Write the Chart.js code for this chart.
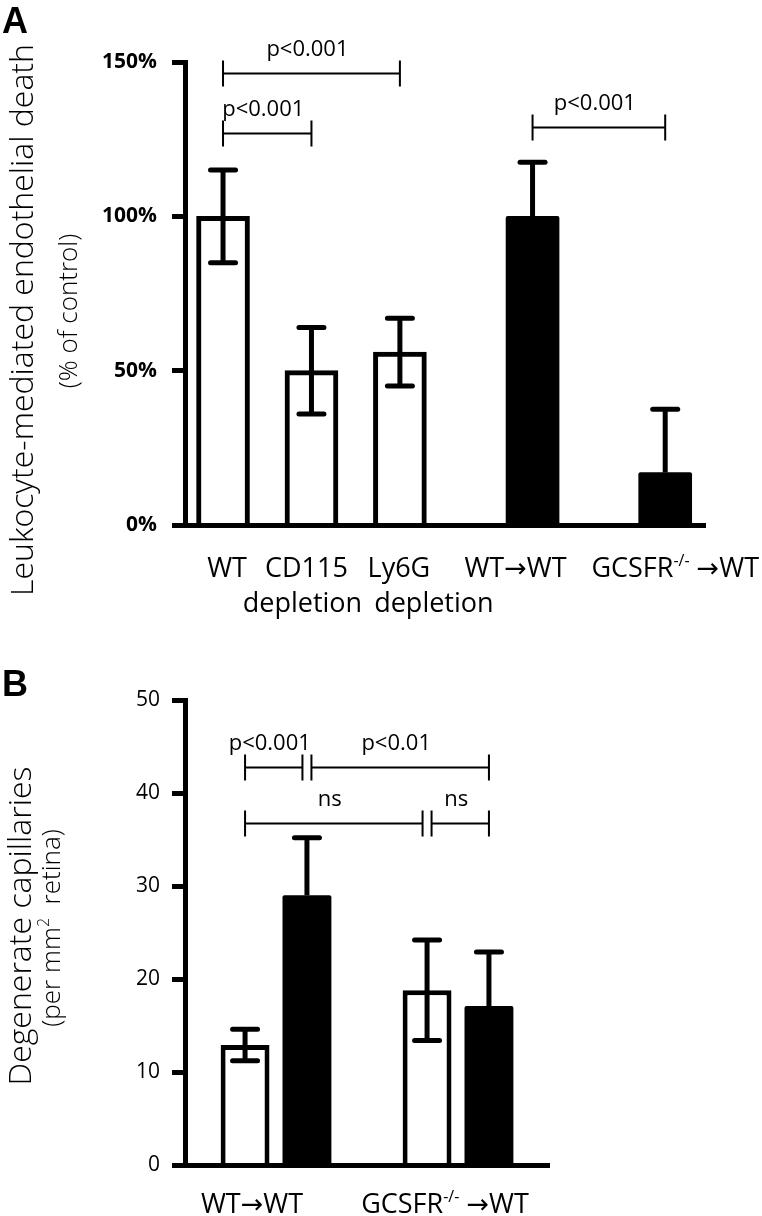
<!DOCTYPE html>
<html>
<head>
<meta charset="utf-8">
<script src="https://cdn.jsdelivr.net/npm/chart.js@4.4.1/dist/chart.umd.min.js"></script>
<style>
	html, body { margin: 0; padding: 0; background: #fff; }
	.panel { position: absolute; left: 0; width: 762px; }
	#panelA { top: 0; height: 620px; }
	#panelB { top: 620px; height: 596px; }
</style>
</head>
<body>
<div class="panel" id="panelA"><canvas id="chartA"></canvas></div>
<div class="panel" id="panelB"><canvas id="chartB"></canvas></div>
<script>
const FONT = '"Open Sans", "DejaVu Sans", sans-serif';

// Panel A - leukocyte-mediated endothelial death (% of control)
const labelsA = [['WT'], ['CD115', 'depletion'], ['Ly6G', 'depletion'], ['WT→WT'], ['GCSFR^{-/-} →WT']];
const slotsA = [0, 1, 2, 3.5, 5];
const depletionMean = [100, 50, 56];
const depletionErr = [15, 14, 11];
const chimeraMean = [100, 17];
const chimeraErr = [17.5, 20.5];
const sigA = [
	{ from: 0, to: 2, level: 146.5, text: 'p<0.001' },
	{ from: 0, to: 1, level: 127, text: 'p<0.001' },
	{ from: 3, to: 4, level: 129, text: 'p<0.001' },
];

// Panel B - degenerate capillaries (per mm2 retina)
const labelsB = [['WT→WT'], ['GCSFR^{-/-} →WT']];
const openMean = [12.9, 18.8];
const openErr = [1.7, 5.4];
const solidMean = [29, 17.1];
const solidErr = [6.2, 5.8];
const sigB = [
	{ from: 0, to: 1, level: 42.8, text: 'p<0.001' },
	{ from: 1, to: 3, level: 42.8, text: 'p<0.01' },
	{ from: 0, to: 2, level: 36.8, text: 'ns' },
	{ from: 2, to: 3, level: 36.8, text: 'ns' },
];


// 'GCSFR^{-/-}' -> normal text + superscript part
function richParts(str){
	const parts = [];
	const re = /\^\{([^}]*)\}/g;
	let last = 0, m;
	while ((m = re.exec(str))) {
		if (m.index > last) parts.push({ t: str.slice(last, m.index) });
		parts.push({ t: m[1], sup: true });
		last = re.lastIndex;
	}
	if (last < str.length) parts.push({ t: str.slice(last) });
	return parts;
}

function drawRich(ctx, str, cx, y, size, weight){
	const parts = richParts(str);
	const fontFor = p => weight + ' ' + (p.sup ? Math.round(size * 0.6) : size) + 'px ' + FONT;
	let total = 0;
	parts.forEach(p => {
		ctx.font = fontFor(p);
		p.w = ctx.measureText(p.t).width;
		total += p.w;
	});
	let x = cx - total / 2;
	ctx.textAlign = 'left';
	ctx.textBaseline = 'alphabetic';
	parts.forEach(p => {
		ctx.font = fontFor(p);
		ctx.fillText(p.t, x, p.sup ? y - size * 0.42 : y);
		x += p.w;
	});
}

// error bars, significance brackets, category labels, axis titles
function figurePlugin(fig){
	return {
		id: 'figure',
		afterDraw(chart){
			const { ctx, chartArea } = chart;
			const xs = chart.scales.x, ys = chart.scales.y;
			ctx.save();
			ctx.fillStyle = '#000';
			ctx.strokeStyle = '#000';

			const bars = [];
			chart.data.datasets.forEach((ds, di) => {
				chart.getDatasetMeta(di).data.forEach((el, i) => {
					const d = ds.data[i];
					bars.push({ x: el.x, top: el.y, mean: typeof d === 'object' ? d.y : d, err: ds.errors[i], solid: ds.solid });
				});
			});
			bars.sort((a, b) => a.x - b.x);

			// open bars get both whiskers, solid ones only the upper one
			bars.forEach(b => {
				const hi = ys.getPixelForValue(b.mean + b.err);
				const lo = b.solid ? b.top : ys.getPixelForValue(b.mean - b.err);
				ctx.lineWidth = 5;
				ctx.lineCap = 'butt';
				ctx.beginPath();
				ctx.moveTo(b.x, hi);
				ctx.lineTo(b.x, lo);
				ctx.stroke();
				ctx.lineCap = 'round';
				ctx.beginPath();
				ctx.moveTo(b.x - 12.5, hi);
				ctx.lineTo(b.x + 12.5, hi);
				if (!b.solid) {
					ctx.moveTo(b.x - 12.5, lo);
					ctx.lineTo(b.x + 12.5, lo);
				}
				ctx.stroke();
			});

			ctx.lineWidth = 2;
			ctx.lineCap = 'butt';
			fig.brackets.forEach(br => {
				const yy = Math.round(ys.getPixelForValue(br.level)) + 0.5;
				let x1 = bars[br.from].x, x2 = bars[br.to].x;
				// two brackets meeting on one bar are pulled apart a little
				if (fig.brackets.some(o => o !== br && o.level === br.level && o.to === br.from)) x1 += 4.5;
				if (fig.brackets.some(o => o !== br && o.level === br.level && o.from === br.to)) x2 -= 4.5;
				ctx.beginPath();
				ctx.moveTo(x1, yy);
				ctx.lineTo(x2, yy);
				ctx.moveTo(x1, yy - 13);
				ctx.lineTo(x1, yy + 13);
				ctx.moveTo(x2, yy - 13);
				ctx.lineTo(x2, yy + 13);
				ctx.stroke();
				ctx.font = '22px ' + FONT;
				ctx.textAlign = 'center';
				ctx.textBaseline = 'alphabetic';
				ctx.fillText(br.text, (x1 + x2) / 2 - 4, yy - 18);
			});

			// category labels, nudged sideways the way they were typed in the figure
			fig.labels.forEach((lines, i) => {
				const cx = xs.getPixelForValue(fig.labelAt[i]);
				lines.forEach((line, k) => {
					drawRich(ctx, line, cx + fig.labelShift[i][k], chartArea.bottom + fig.labelGap + k * 35, 27, 'normal');
				});
			});

			// rotated axis titles
			fig.titles.forEach(t => {
				ctx.save();
				ctx.translate(t.x, t.y);
				ctx.rotate(-Math.PI / 2);
				drawRich(ctx, t.text, 0, 0, t.size, t.weight);
				ctx.restore();
			});

			ctx.font = 'bold 36px "Liberation Sans", Arial, sans-serif';
			ctx.textAlign = 'left';
			ctx.fillText(fig.letter, 2, fig.letterY);
			ctx.restore();
		}
	};
}

function axisY(min, max, step, bold, pad, fmt){
	return {
		min: min,
		max: max,
		afterFit: s => { s.width = 185; },
		grid: { drawOnChartArea: false, drawTicks: true, tickLength: 13, tickWidth: 5, tickColor: '#000', color: '#000' },
		border: { display: true, width: 5, color: '#000', z: 1 },
		ticks: {
			stepSize: step,
			padding: pad,
			color: '#000',
			font: { family: FONT, size: 21, weight: bold ? 'bold' : 'normal' },
			callback: fmt,
		},
	};
}


// Panel A
new Chart(
	document.getElementById('chartA'),
	{
		type: 'bar',
		data: {
			datasets: [
				{
					label: 'antibody depletion',
					data: depletionMean.map((y, i) => ({ x: slotsA[i], y: y })),
					errors: depletionErr,
					solid: false,
					backgroundColor: '#fff',
					borderColor: '#000',
					borderWidth: 5,
				},
				{
					label: 'bone marrow chimera',
					data: chimeraMean.map((y, i) => ({ x: slotsA[i + 3], y: y })),
					errors: chimeraErr,
					solid: true,
					backgroundColor: '#000',
					borderColor: '#000',
					borderWidth: 0,
					borderRadius: 2,
				}
			]
		},
		options: {
			responsive: true,
			maintainAspectRatio: false,
			animation: false,
			devicePixelRatio: 1,
			layout: { padding: { top: 62, right: 57, left: 0, bottom: 0 } },
			datasets: { bar: { barThickness: 53, grouped: false } },
			plugins: { legend: { display: false }, tooltip: { enabled: false } },
			scales: {
				x: {
					type: 'linear',
					offset: false,
					min: -0.43,
					max: 5.45,
					afterFit: s => { s.height = 620 - 525; },
					grid: { display: false },
					border: { display: true, width: 5, color: '#000', z: 1 },
					ticks: { display: false },
				},
				y: axisY(0, 150, 50, true, 15, v => v + '%'),
			}
		},
		plugins: [figurePlugin({
			brackets: sigA,
			labels: labelsA,
			labelAt: slotsA,
			labelShift: [[4], [-5, -9], [-1, 34], [-17], [10]],
			labelGap: 52,
			letter: 'A',
			letterY: 33,
			titles: [
				{ text: 'Leukocyte-mediated endothelial death', x: 33, y: 320, size: 32, weight: '350' },
				{ text: '(% of control)', x: 77, y: 311, size: 26, weight: '350' },
			],
		})]
	}
);

// Panel B
new Chart(
	document.getElementById('chartB'),
	{
		type: 'bar',
		data: {
			labels: labelsB.map(l => l[0]),
			datasets: [
				{
					label: 'open',
					data: openMean,
					errors: openErr,
					solid: false,
					backgroundColor: '#fff',
					borderColor: '#000',
					borderWidth: 5,
				},
				{
					label: 'solid',
					data: solidMean,
					errors: solidErr,
					solid: true,
					backgroundColor: '#000',
					borderColor: '#000',
					borderWidth: 0,
					borderRadius: 2,
				}
			]
		},
		options: {
			responsive: true,
			maintainAspectRatio: false,
			animation: false,
			devicePixelRatio: 1,
			layout: { padding: { top: 80, right: 213, left: 0, bottom: 0 } },
			datasets: { bar: { categoryPercentage: 0.68, barPercentage: 0.79 } },
			plugins: { legend: { display: false }, tooltip: { enabled: false } },
			scales: {
				x: {
					afterFit: s => { s.height = 596 - 545; },
					grid: { display: false },
					border: { display: true, width: 5, color: '#000', z: 1 },
					ticks: { display: false },
				},
				y: axisY(0, 50, 10, false, 12),
			}
		},
		plugins: [figurePlugin({
			brackets: sigB,
			labels: labelsB,
			labelAt: [0, 1],
			labelShift: [[-24], [-13]],
			labelGap: 48,
			letter: 'B',
			letterY: 76,
			titles: [
				{ text: 'Degenerate capillaries', x: 31, y: 306, size: 32, weight: '350' },
				{ text: '(per mm^{2}  retina)', x: 60, y: 308, size: 26, weight: '350' },
			],
		})]
	}
);
</script>
</body>
</html>
